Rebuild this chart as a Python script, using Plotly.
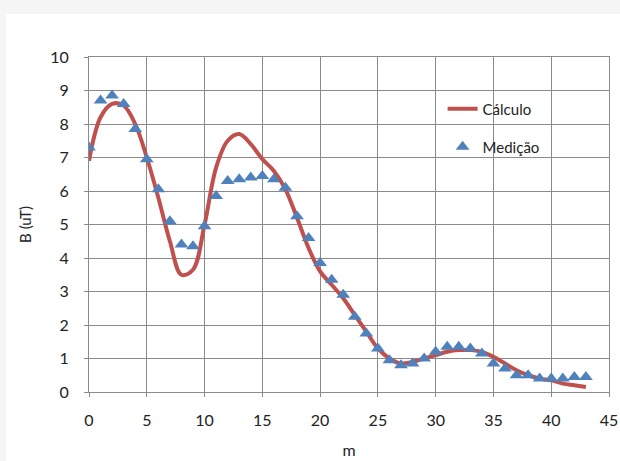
import plotly.graph_objects as go

# Data
m_calc = list(range(0, 44))
b_calc = [6.9, 8.2, 8.6, 8.55, 8.0, 7.0, 5.8, 4.5, 3.5, 3.65,
          5.0, 6.7, 7.5, 7.7, 7.4, 6.95, 6.6, 6.05, 5.2, 4.3,
          3.6, 3.2, 2.8, 2.3, 1.8, 1.3, 1.0, 0.85, 0.9, 1.0,
          1.1, 1.2, 1.25, 1.25, 1.2, 1.05, 0.85, 0.65, 0.5, 0.4,
          0.35, 0.25, 0.2, 0.15]

m_med = list(range(0, 44))
b_med = [7.3, 8.7, 8.85, 8.6, 7.85, 6.95, 6.05, 5.1, 4.4, 4.35,
         4.95, 5.85, 6.3, 6.35, 6.4, 6.45, 6.35, 6.1, 5.25, 4.6,
         3.85, 3.35, 2.9, 2.25, 1.75, 1.3, 0.95, 0.8, 0.85, 1.0,
         1.2, 1.35, 1.35, 1.3, 1.15, 0.85, 0.7, 0.5, 0.5, 0.4,
         0.4, 0.4, 0.45, 0.45]

x_ticks = [0, 5, 10, 15, 20, 25, 30, 35, 40, 45]
y_ticks = [0, 1, 2, 3, 4, 5, 6, 7, 8, 9, 10]

FONT = "Lato"

fig = go.Figure()
fig.add_trace(go.Scatter(
    x=m_calc, y=b_calc, mode="lines", name="Cálculo",
    line=dict(color="#C0504D", width=4, shape="spline", smoothing=1.0),
    legend="legend",
))
fig.add_trace(go.Scatter(
    x=m_med, y=b_med, mode="markers", name="Medição",
    marker=dict(symbol="triangle-up", size=12, color="#4F81BD"),
    legend="legend2",
))

axis_common = dict(
    showgrid=True, gridcolor="#8a8a8a", gridwidth=1,
    showline=True, linecolor="#8a8a8a", linewidth=1, mirror=True,
    ticks="outside", ticklen=4, tickcolor="#8a8a8a",
    zeroline=False, automargin=False,
    tickfont=dict(family=FONT, size=16, color="#222222"),
)

fig.update_layout(
    width=620, height=461,
    margin=dict(l=89, r=11, t=57, b=69),
    paper_bgcolor="white", plot_bgcolor="white",
    font=dict(family=FONT, size=15, color="#222222"),
    xaxis=dict(range=[0, 45], tickvals=x_ticks, ticklabelstandoff=10, **axis_common,
               title=dict(text="m", font=dict(family=FONT, size=16), standoff=16)),
    yaxis=dict(range=[0, 10], tickvals=y_ticks, ticklabelstandoff=12, **axis_common,
               title=dict(text="B (uT)", font=dict(family=FONT, size=15), standoff=14)),
    legend=dict(x=0.68, y=0.845, xanchor="left", yanchor="middle",
                bgcolor="rgba(255,255,255,0)", font=dict(family=FONT, size=15, color="#222222")),
    legend2=dict(x=0.68, y=0.731, xanchor="left", yanchor="middle",
                 bgcolor="rgba(255,255,255,0)", font=dict(family=FONT, size=15, color="#222222")),
    showlegend=True,
)

# faint textured frame at the top and left edges
fig.add_shape(type="rect", xref="paper", yref="paper", x0=-89/520, x1=1+11/520,
              y0=1+43/335, y1=1+57/335, fillcolor="#f5f5f5", line=dict(width=0), layer="below")
fig.add_shape(type="rect", xref="paper", yref="paper", x0=-89/520, x1=-83/520,
              y0=-69/335, y1=1+43/335, fillcolor="#f5f5f5", line=dict(width=0), layer="below")

fig.write_html("out.html")
